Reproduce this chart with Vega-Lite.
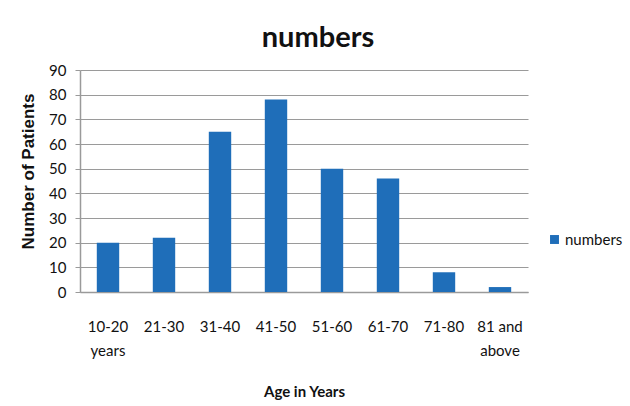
{
  "$schema": "https://vega.github.io/schema/vega-lite/v6.json",
  "width": 448,
  "height": 222,
  "autosize": {"type": "none"},
  "padding": {"left": 80, "top": 70, "right": 102, "bottom": 114},
  "background": "white",
  "title": {
    "text": "numbers",
    "font": "Lato",
    "fontSize": 29,
    "fontWeight": "bold",
    "color": "#111111",
    "anchor": "middle",
    "baseline": "alphabetic",
    "dx": 14,
    "dy": 25,
    "offset": 12
  },
  "data": {
    "values": [
      {"age": "10-20 years", "patients": 20, "series": "numbers"},
      {"age": "21-30", "patients": 22, "series": "numbers"},
      {"age": "31-40", "patients": 65, "series": "numbers"},
      {"age": "41-50", "patients": 78, "series": "numbers"},
      {"age": "51-60", "patients": 50, "series": "numbers"},
      {"age": "61-70", "patients": 46, "series": "numbers"},
      {"age": "71-80", "patients": 8, "series": "numbers"},
      {"age": "81 and above", "patients": 2, "series": "numbers"}
    ]
  },
  "mark": {"type": "bar"},
  "encoding": {
    "x": {
      "field": "age",
      "type": "nominal",
      "sort": null,
      "scale": {"paddingInner": 0.6, "paddingOuter": 0.3},
      "axis": {
        "title": "Age in Years",
        "titleFont": "Lato",
        "titleFontSize": 15,
        "titleFontWeight": "bold",
        "titleColor": "#111111",
        "titleBaseline": "alphabetic",
        "titleY": 104,
        "labelAngle": 0,
        "labelFont": "Lato",
        "labelFontSize": 15,
        "labelColor": "#111111",
        "labelBaseline": "alphabetic",
        "labelPadding": 39,
        "labelLineHeight": 24,
        "labelExpr": "datum.value == '81 and above' ? ['81 and', 'above'] : split(datum.value, ' ')",
        "ticks": false,
        "tickSize": 0,
        "domainColor": "#9a9a9a",
        "domainWidth": 1.5,
        "grid": false
      }
    },
    "y": {
      "field": "patients",
      "type": "quantitative",
      "scale": {"domain": [0, 90], "nice": false},
      "axis": {
        "title": "Number  of Patients",
        "titleFont": "Liberation Sans",
        "titleFontSize": 17,
        "titleFontWeight": "bold",
        "titleColor": "#111111",
        "titleAngle": -90,
        "titleBaseline": "middle",
        "titleX": -52,
        "titleY": 101,
        "values": [0, 10, 20, 30, 40, 50, 60, 70, 80, 90],
        "labelFont": "Lato",
        "labelFontSize": 15,
        "labelColor": "#111111",
        "labelPadding": 9,
        "tickSize": 5,
        "tickColor": "#9a9a9a",
        "domainColor": "#9a9a9a",
        "domainWidth": 1.5,
        "gridColor": "#9a9a9a",
        "gridWidth": 1.2
      }
    },
    "color": {
      "field": "series",
      "type": "nominal",
      "scale": {"range": ["#1f6eb9"]},
      "legend": {
        "title": null,
        "orient": "none",
        "legendX": 467,
        "legendY": 162,
        "symbolType": "square",
        "symbolSize": 80,
        "symbolStrokeWidth": 0,
        "labelFont": "Lato",
        "labelFontSize": 15,
        "labelColor": "#111111",
        "labelOffset": 3
      }
    }
  },
  "config": {"view": {"stroke": null}}
}
